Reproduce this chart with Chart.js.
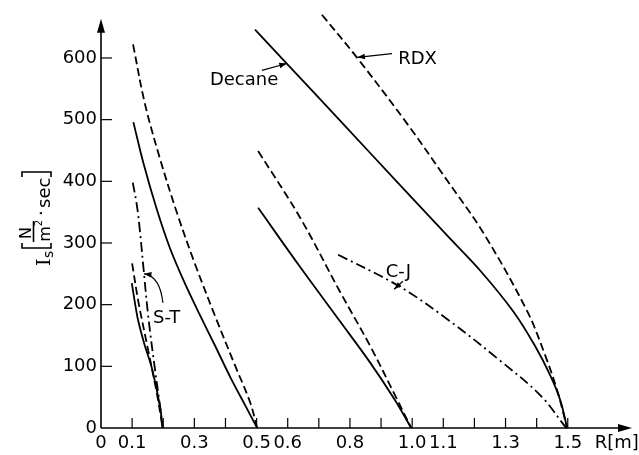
<!DOCTYPE html>
<html>
<head>
<meta charset="utf-8">
<script src="https://cdn.jsdelivr.net/npm/chart.js@4.4.1/dist/chart.umd.min.js"></script>
<style>
html,body{margin:0;padding:0;background:#fff;}
#wrap{width:639px;height:455px;position:relative;}
</style>
</head>
<body>
<div id="wrap"><canvas id="c" width="639" height="455"></canvas></div>
<script>
// ---- data (R in m, Is in N/m^2*sec) ----
const xTickLabels = ['0','0.1','0.3','0.5','0.6','0.8','1.0','1.1','1.3','1.5'];
const yTickValues = [0,100,200,300,400,500,600];

// cloud radius 0.2 m (S-T group)
const st02SolidR = [0.099,0.11,0.12,0.14,0.163,0.19,0.198];
const st02SolidI = [235,200,173,135,98,34,0];
const st02DashR  = [0.100,0.12,0.15,0.18,0.198];
const st02DashI  = [267,205,130,55,0];
const st02ST_R   = [0.102,0.115,0.125,0.136,0.152,0.174,0.19,0.198];
const st02ST_I   = [398,362,320,262,180,93,34,0];

// cloud radius 0.5 m
const r05DashR  = [0.103,0.141,0.190,0.244,0.302,0.367,0.431,0.479,0.502];
const r05DashI  = [622,526,436,349,266,181,101,42,0];
const r05SolidR = [0.104,0.136,0.179,0.222,0.270,0.318,0.367,0.415,0.463,0.502];
const r05SolidI = [496,430,355,291,234,183,133,83,37,0];

// cloud radius 1.0 m
const r10DashR  = [0.505,0.64,0.768,0.865,0.945,0.997];
const r10DashI  = [449,341,221,133,53,0];
const r10SolidR = [0.505,0.64,0.768,0.865,0.945,0.997];
const r10SolidI = [357,261,173,106,45,0];

// cloud radius 1.5 m
const decaneR = [0.495,0.597,0.778,0.961,1.122,1.219,1.325,1.395,1.444,1.476,1.498];
const decaneI = [646,591,493,394,307,255,189,133,85,45,0];
const rdxR    = [0.71,0.822,0.983,1.106,1.228,1.37,1.428,1.466,1.498];
const rdxI    = [670,601,494,406,317,189,117,61,0];
const cjR     = [0.762,0.961,1.122,1.283,1.412,1.495];
const cjI     = [281,229,173,109,53,0];

// text annotations and arrows (positions in data units)
const labelTexts = ['Decane','RDX','S-T','C-J'];
const labelR = [0.35,0.955,0.167,0.915];
const labelI = [556,591,170,245];
const arrowTail = [[0.517,580],[0.935,607],[0.199,203],[0.97,238]];
const arrowTip  = [[0.597,591],[0.824,601],[0.138,250],[0.942,225]];

function pts(rs, is){ return rs.map((r,i)=>({x:r,y:is[i]})); }
const SOLID=[], DASH=[8,4], DASHDOT=[10,4,2,4];
function ds(rs,is,dash){
  return {data:pts(rs,is), showLine:true, borderColor:'#000', borderWidth:1.8,
    borderDash:dash, pointRadius:0, tension:0.35, fill:false, clip:false};
}

const FONT = '"DejaVu Sans", Arial, sans-serif';

const axisPlugin = {
  id:'axisDeco',
  afterDraw(chart){
    const ctx = chart.ctx, xs = chart.scales.x, ys = chart.scales.y;
    const a = chart.chartArea;
    const x0 = xs.getPixelForValue(0), y0 = ys.getPixelForValue(0);
    ctx.save();
    ctx.strokeStyle='#000'; ctx.fillStyle='#000'; ctx.lineWidth=1.6;
    ctx.beginPath(); ctx.moveTo(x0, y0); ctx.lineTo(a.right-2, y0); ctx.stroke();
    ctx.beginPath(); ctx.moveTo(x0, y0); ctx.lineTo(x0, a.top+8); ctx.stroke();
    ctx.beginPath(); ctx.moveTo(a.right+2, y0); ctx.lineTo(a.right-12, y0-4); ctx.lineTo(a.right-12, y0+4); ctx.closePath(); ctx.fill();
    ctx.beginPath(); ctx.moveTo(x0, a.top+4); ctx.lineTo(x0-4, a.top+18); ctx.lineTo(x0+4, a.top+18); ctx.closePath(); ctx.fill();
    ctx.lineWidth=1.2;
    for(let k=1;k<=15;k++){
      const px = xs.getPixelForValue(k/10);
      ctx.beginPath(); ctx.moveTo(px,y0); ctx.lineTo(px,y0-10); ctx.stroke();
    }
    yTickValues.forEach(v=>{ if(v===0) return;
      const py = ys.getPixelForValue(v);
      ctx.beginPath(); ctx.moveTo(x0,py); ctx.lineTo(x0+11,py); ctx.stroke();
    });
    ctx.font = '18px '+FONT; ctx.textBaseline='alphabetic'; ctx.textAlign='left';
    ctx.fillText('R[m]', xs.getPixelForValue(1.5)+27, y0+20);
    labelTexts.forEach((t,i)=>{
      ctx.fillText(t, xs.getPixelForValue(labelR[i]), ys.getPixelForValue(labelI[i]));
    });
    arrowTail.forEach((tl,i)=>{
      const tx=xs.getPixelForValue(tl[0]), ty=ys.getPixelForValue(tl[1]);
      const hx=xs.getPixelForValue(arrowTip[i][0]), hy=ys.getPixelForValue(arrowTip[i][1]);
      ctx.lineWidth=1.2;
      ctx.beginPath(); ctx.moveTo(tx,ty);
      let ang;
      if(labelTexts[i]==='S-T'){
        const cx=tx-3, cy=hy+2;
        ctx.quadraticCurveTo(cx,cy,hx,hy);
        ang=Math.atan2(hy-cy,hx-cx);
      } else { ctx.lineTo(hx,hy); ang=Math.atan2(hy-ty,hx-tx); }
      ctx.stroke();
      ctx.beginPath(); ctx.moveTo(hx,hy);
      ctx.lineTo(hx-8*Math.cos(ang-0.35), hy-8*Math.sin(ang-0.35));
      ctx.lineTo(hx-8*Math.cos(ang+0.35), hy-8*Math.sin(ang+0.35));
      ctx.closePath(); ctx.fill();
    });
    // y title: I_s [ N/m^2 . sec ]
    ctx.translate(50, 266); ctx.rotate(-Math.PI/2);
    ctx.font='19px "DejaVu Serif", serif'; ctx.fillText('I',0,0);
    ctx.font='14px '+FONT; ctx.fillText('s',8,3);
    ctx.lineWidth=1.6;
    ctx.beginPath(); ctx.moveTo(23,1); ctx.lineTo(18,1); ctx.lineTo(18,-28); ctx.lineTo(23,-28); ctx.stroke();
    ctx.font='16px '+FONT; ctx.textAlign='center';
    ctx.fillText('N',33,-19);
    ctx.beginPath(); ctx.moveTo(24,-16.5); ctx.lineTo(45,-16.5); ctx.stroke();
    ctx.fillText('m',32,0);
    ctx.font='10px '+FONT; ctx.fillText('2',43,-8);
    ctx.textAlign='left'; ctx.font='18px '+FONT;
    ctx.fillText('·',50,-3);
    ctx.fillText('sec',58,0);
    ctx.beginPath(); ctx.moveTo(89,1); ctx.lineTo(94,1); ctx.lineTo(94,-28); ctx.lineTo(89,-28); ctx.stroke();
    ctx.restore();
  }
};

new Chart(document.getElementById('c'), {
  type:'scatter',
  data:{datasets:[
    ds(st02SolidR,st02SolidI,SOLID),
    ds(st02DashR,st02DashI,DASH),
    ds(st02ST_R,st02ST_I,DASHDOT),
    ds(r05DashR,r05DashI,DASH),
    ds(r05SolidR,r05SolidI,SOLID),
    ds(r10DashR,r10DashI,DASH),
    ds(r10SolidR,r10SolidI,SOLID),
    ds(decaneR,decaneI,SOLID),
    ds(rdxR,rdxI,DASH),
    ds(cjR,cjI,DASHDOT)
  ]},
  options:{
    responsive:false, animation:false, devicePixelRatio:1,
    layout:{padding:{top:10,right:9,left:0,bottom:0}},
    plugins:{legend:{display:false},tooltip:{enabled:false}},
    scales:{
      x:{type:'linear',min:0,max:1.7,
        grid:{display:false,drawTicks:false}, border:{display:false},
        afterFit(s){ s.height = 27; },
        ticks:{stepSize:0.1,includeBounds:false,autoSkip:false,maxRotation:0,padding:5,color:'#000',
          font:{family:FONT,size:18},
          callback(v){ const s=(Math.round(v*10)/10).toFixed(1); const t = s==='0.0'?'0':s;
            return xTickLabels.includes(t) ? t : ''; }}
      },
      y:{type:'linear',min:0,max:670,
        grid:{display:false,drawTicks:false}, border:{display:false},
        afterFit(s){ s.width = 101; },
        ticks:{stepSize:100,includeBounds:false,padding:4,color:'#000',font:{family:FONT,size:18}}
      }
    }
  },
  plugins:[axisPlugin]
});
</script>
</body>
</html>
